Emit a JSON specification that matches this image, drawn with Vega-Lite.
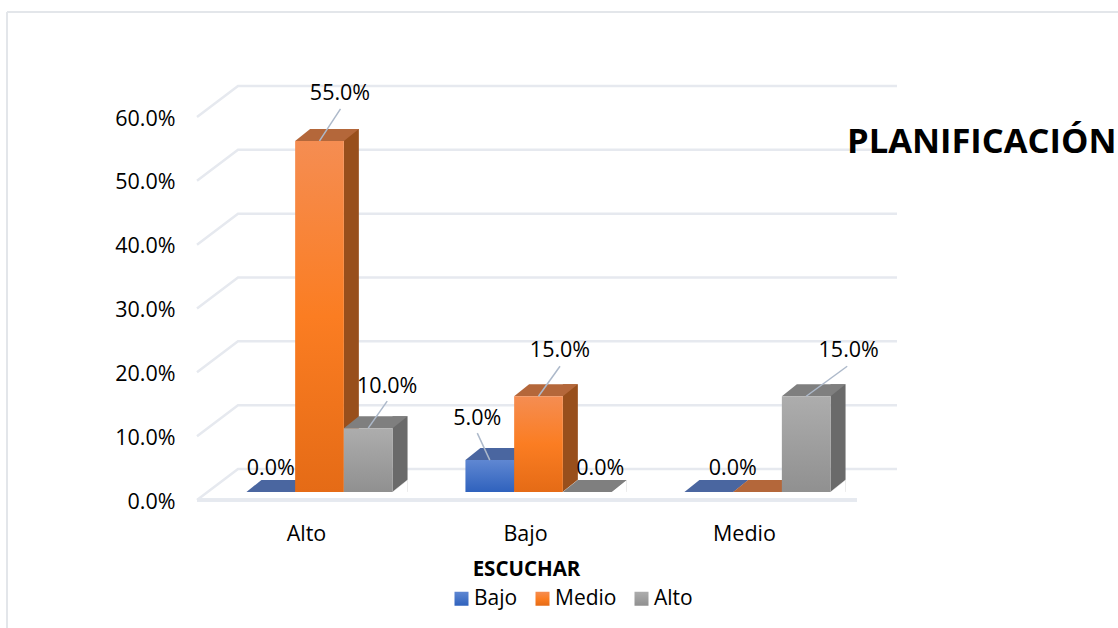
{
"$schema":"https://vega.github.io/schema/vega-lite/v6.json",
"width":657,"height":383,
"autosize":{"type":"none"},
"padding":{"left":210,"top":117,"right":251,"bottom":128},
"background":"white",
"config":{"view":{"stroke":null},"font":"Open Sans","axisY":{"tickCount":7,"labelFontSize":21.5,"labelColor":"#000000","labelPadding":35,"labelOffset":2,"domain":false,"ticks":false,"grid":false}},
"title":{"text":"PLANIFICACIÓN","anchor":"start","frame":"group","dx":637,"dy":156,"font":"Open Sans","fontSize":34.5,"fontWeight":"bold","color":"#000000"},
"data":{"values":[
{"escuchar":"Alto","nivel":"Bajo","valor":0},
{"escuchar":"Alto","nivel":"Medio","valor":0.55},
{"escuchar":"Alto","nivel":"Alto","valor":0.10},
{"escuchar":"Bajo","nivel":"Bajo","valor":0.05},
{"escuchar":"Bajo","nivel":"Medio","valor":0.15},
{"escuchar":"Bajo","nivel":"Alto","valor":0},
{"escuchar":"Medio","nivel":"Bajo","valor":0},
{"escuchar":"Medio","nivel":"Medio","valor":0},
{"escuchar":"Medio","nivel":"Alto","valor":0.15}
]},
"encoding":{
"x":{"field":"escuchar","type":"nominal","sort":["Alto","Bajo","Medio"],"scale":{"paddingInner":0,"paddingOuter":0},
"axis":{"title":"ESCUCHAR","titleFontWeight":"bold","titleFontSize":20.5,"titleFont":"Open Sans","titleColor":"#000000","titleX":316,"titleY":69,"titleBaseline":"middle","labelAngle":0,"labelFontSize":21.5,"labelColor":"#000000","labelOffset":-13,"labelPadding":23,"domain":false,"ticks":false,"grid":false}},
"xOffset":{"field":"nivel","type":"nominal","sort":["Bajo","Medio","Alto"],"scale":{"paddingInner":0,"paddingOuter":0.748}},
"y":{"field":"valor","type":"quantitative","stack":null,"scale":{"domain":[0,0.6],"nice":false},
"axis":{"title":null,"format":".1%"}}
},
"layer":[
{"data":{"values":[{"marca":0},{"marca":0.1},{"marca":0.2},{"marca":0.3},{"marca":0.4},{"marca":0.5},{"marca":0.6}]},
 "mark":{"type":"point","shape":"M0,0L4.1,-3.1L70,-3.1","size":400,"filled":false,"opacity":1,"stroke":"#e6e9ef","strokeWidth":2.5,"xOffset":-122.5},
 "encoding":{"x":{"datum":"Alto"},"xOffset":null,"y":{"field":"marca","type":"quantitative","axis":{"title":null,"format":".1%"}}}},
{"mark":{"type":"point","shape":"M0,0L111.1,0","size":400,"filled":false,"opacity":1,"stroke":"#e3e6ea","strokeWidth":2,"xOffset":-312.5,"yOffset":-105},
 "encoding":{"x":{"datum":"Alto"},"xOffset":null,"y":{"datum":0.6,"axis":{"title":null,"format":".1%"}}}},
{"mark":{"type":"rule","stroke":"#e3e6ea","strokeWidth":2,"xOffset":-312.5,"yOffset":-105,"y2Offset":128},
 "encoding":{"x":{"datum":"Alto"},"xOffset":null,"y":{"datum":0.6,"axis":{"title":null,"format":".1%"}},"y2":{"datum":0}}},
{"mark":{"type":"point","shape":"M0,0L66,0","size":400,"filled":false,"opacity":1,"stroke":"#e6e9ef","strokeWidth":3,"xOffset":-122.5},
 "encoding":{"x":{"datum":"Alto"},"xOffset":null,"y":{"datum":0,"axis":{"title":null,"format":".1%"}}}},
{"transform":[{"filter":"datum.nivel=='Bajo'"}],"mark":{"type":"rule","strokeWidth":15,"stroke":"#2c4f96","xOffset":-16.85,"yOffset":-20,"y2Offset":-8},
 "encoding":{"xOffset":null,"y2":{"datum":0}}},
{"transform":[{"filter":"datum.nivel=='Medio'"}],"mark":{"type":"rule","strokeWidth":15,"stroke":"#984f1c","xOffset":31.85,"yOffset":-20,"y2Offset":-8},
 "encoding":{"xOffset":null,"y2":{"datum":0}}},
{"transform":[{"filter":"datum.nivel=='Alto'"}],"mark":{"type":"rule","strokeWidth":15,"stroke":"#6a6a6a","xOffset":80.55,"yOffset":-20,"y2Offset":-8},
 "encoding":{"xOffset":null,"y2":{"datum":0}}},
{"mark":{"type":"point","shape":"M2.435,0L3.935,0L3.935,-1.2Z","size":400,"filled":true,"opacity":1,"fill":"#ffffff","stroke":"#ffffff","strokeWidth":0.5,"yOffset":-8},
 "encoding":{"y":{"datum":0,"axis":{"title":null,"format":".1%"}}}},
{"mark":{"type":"point","shape":"M-2.435,0L2.435,0L3.935,-1.2L-0.935,-1.2Z","size":400,"filled":true,"opacity":1,"yOffset":-8},
 "encoding":{"color":{"field":"nivel","type":"nominal","legend":null,"scale":{"domain":["Bajo","Medio","Alto"],"range":["#4a66a0","#b4673a","#7f7f7f"]}}}},
{"mark":{"type":"bar","yOffset":-8,"y2Offset":-8},
 "encoding":{"y2":{"datum":0},"color":{"field":"nivel","type":"nominal",
  "legend":{"orient":"none","legendX":241,"legendY":471,"direction":"horizontal","title":null,"symbolType":"square","symbolSize":196,"symbolStrokeWidth":0,"labelFontSize":21,"labelColor":"#000000","labelOffset":2,"columnPadding":14,"padding":0},
  "scale":{"domain":["Bajo","Medio","Alto"],"range":[
   {"expr":"{gradient:'linear',x1:0,y1:0,x2:0,y2:1,stops:[{offset:0,color:'#5f87d2'},{offset:1,color:'#2f62bd'}]}"},
   {"expr":"{gradient:'linear',x1:0,y1:0,x2:0,y2:1,stops:[{offset:0,color:'#f58d52'},{offset:0.5,color:'#fb7d22'},{offset:1,color:'#e56b16'}]}"},
   {"expr":"{gradient:'linear',x1:0,y1:0,x2:0,y2:1,stops:[{offset:0,color:'#adadad'},{offset:1,color:'#909090'}]}"}]}}}},
{"transform":[{"filter":"datum.escuchar=='Alto'&&datum.nivel=='Medio'"}],"mark":{"type":"point","shape":"M0,0L2.1,-3.2","size":400,"filled":false,"opacity":1,"stroke":"#adb9ca","strokeWidth":1.5,"yOffset":-8}},
{"transform":[{"filter":"datum.escuchar=='Alto'&&datum.nivel=='Alto'"}],"mark":{"type":"point","shape":"M0,0L1.9,-2.7","size":400,"filled":false,"opacity":1,"stroke":"#adb9ca","strokeWidth":1.5,"yOffset":-8}},
{"transform":[{"filter":"datum.escuchar=='Bajo'&&datum.nivel=='Bajo'"}],"mark":{"type":"point","shape":"M0,0L-1.25,-2.7","size":400,"filled":false,"opacity":1,"stroke":"#adb9ca","strokeWidth":1.5,"yOffset":-8}},
{"transform":[{"filter":"datum.escuchar=='Bajo'&&datum.nivel=='Medio'"}],"mark":{"type":"point","shape":"M0,0L2.15,-3.0","size":400,"filled":false,"opacity":1,"stroke":"#adb9ca","strokeWidth":1.5,"yOffset":-8}},
{"transform":[{"filter":"datum.escuchar=='Medio'&&datum.nivel=='Alto'"}],"mark":{"type":"point","shape":"M0,0L4.1,-3.0","size":400,"filled":false,"opacity":1,"stroke":"#adb9ca","strokeWidth":1.5,"yOffset":-8}},
{"transform":[{"filter":"datum.escuchar=='Alto'&&datum.nivel=='Medio'"}],"mark":{"type":"text","fontSize":21.5,"fill":"#000000","dx":20.5,"dy":-55},"encoding":{"text":{"field":"valor","type":"quantitative","format":".1%"}}},
{"transform":[{"filter":"datum.escuchar=='Alto'&&datum.nivel=='Alto'"}],"mark":{"type":"text","fontSize":21.5,"fill":"#000000","dx":19,"dy":-49},"encoding":{"text":{"field":"valor","type":"quantitative","format":".1%"}}},
{"transform":[{"filter":"datum.escuchar=='Alto'&&datum.nivel=='Bajo'"}],"mark":{"type":"text","fontSize":21.5,"fill":"#000000","dx":0,"dy":-31},"encoding":{"text":{"field":"valor","type":"quantitative","format":".1%"}}},
{"transform":[{"filter":"datum.escuchar=='Bajo'&&datum.nivel=='Bajo'"}],"mark":{"type":"text","fontSize":21.5,"fill":"#000000","dx":-12.5,"dy":-49},"encoding":{"text":{"field":"valor","type":"quantitative","format":".1%"}}},
{"transform":[{"filter":"datum.escuchar=='Bajo'&&datum.nivel=='Medio'"}],"mark":{"type":"text","fontSize":21.5,"fill":"#000000","dx":21.5,"dy":-53},"encoding":{"text":{"field":"valor","type":"quantitative","format":".1%"}}},
{"transform":[{"filter":"datum.escuchar=='Bajo'&&datum.nivel=='Alto'"}],"mark":{"type":"text","fontSize":21.5,"fill":"#000000","dx":13,"dy":-31},"encoding":{"text":{"field":"valor","type":"quantitative","format":".1%"}}},
{"transform":[{"filter":"datum.escuchar=='Medio'&&datum.nivel=='Bajo'"}],"mark":{"type":"text","fontSize":21.5,"fill":"#000000","dx":24,"dy":-31},"encoding":{"text":{"field":"valor","type":"quantitative","format":".1%"}}},
{"transform":[{"filter":"datum.escuchar=='Medio'&&datum.nivel=='Alto'"}],"mark":{"type":"text","fontSize":21.5,"fill":"#000000","dx":42.5,"dy":-53},"encoding":{"text":{"field":"valor","type":"quantitative","format":".1%"}}}
],
"resolve":{"scale":{"color":"independent"}}
}
